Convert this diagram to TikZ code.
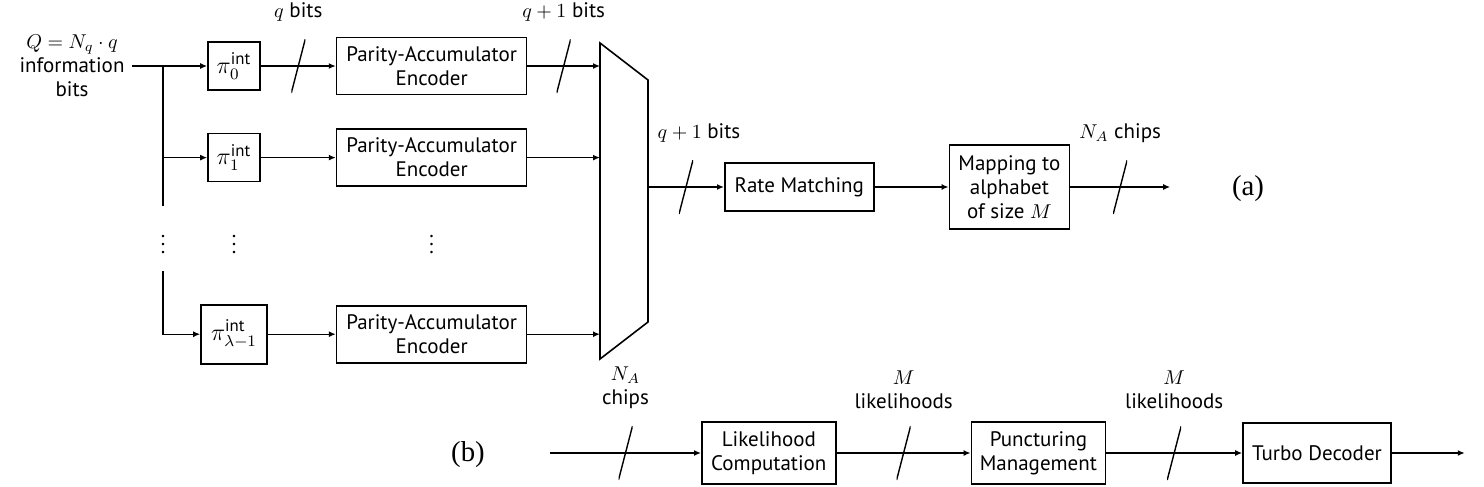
\documentclass[tikz,border=0pt]{standalone}
\usepackage[no-math]{fontspec}
\setmainfont{PT Sans}[Scale=1.05]
\newfontfamily\tagfont{Liberation Serif}
\usepackage{amsmath}
\usetikzlibrary{arrows.meta,positioning,calc}
\tikzset{
  block/.style={
    rectangle, draw, thick, align=center,
    minimum height=28.5pt, inner sep=3pt
  },
  perm/.style={
    rectangle, draw, thick, minimum width=26pt,
    minimum height=24pt, inner sep=1.5pt, font=\large
  },
  flow/.style={-{Latex[length=3.5pt,width=3pt]}, line width=0.7pt},
  wire/.style={line width=0.7pt},
  busmark/.style={
    minimum width=7pt, minimum height=27pt, inner sep=0pt,
    path picture={\draw[-, line width=0.7pt] (path picture bounding box.south west)
      -- (path picture bounding box.north east);}
  },
  buslabel/.style={align=center, inner sep=1pt, label distance=7pt},
}
\begin{document}
\begin{tikzpicture}
  \useasboundingbox (0,0) rectangle (742pt,-243.5pt);

  % (a) transmitter
  \node[align=center] (src) at (36pt,-33pt) {$Q=N_q\cdot q$\\information\\bits};
  \node[perm] (pi0) at (117pt,-33pt) {$\pi_0^{\text{int}}$};
  \node[perm, below=21pt of pi0] (pi1) {$\pi_1^{\text{int}}$};
  \node[perm, minimum width=33pt, minimum height=29.5pt, below=60.75pt of pi1] (piL) {$\pi_{\lambda-1}^{\text{int}}$};

  \node[block, minimum width=95pt, right=37.5pt of pi0] (enc0) {Parity-Accumulator\\Encoder};
  \node[block, minimum width=95pt, right=37.5pt of pi1] (enc1) {Parity-Accumulator\\Encoder};
  \node[block, minimum width=95pt, right=34pt of piL] (encL) {Parity-Accumulator\\Encoder};

  \node (vdsplit) at (81.5pt,-119.5pt) {$\vdots$};
  \node (vdpi) at (vdsplit -| pi1) {$\vdots$};
  \node (vdenc) at (vdsplit -| enc1) {$\vdots$};

  % multiplexer
  \coordinate (muxtl) at (300pt,-21.5pt);
  \coordinate (muxtr) at (324pt,-40pt);
  \coordinate (muxbr) at (324pt,-161pt);
  \coordinate (muxbl) at (300pt,-179.5pt);
  \draw[thick] (muxtl) -- (muxtr) -- (muxbr) -- (muxbl) -- cycle;
  \coordinate (mux0) at (muxtl |- enc0);
  \coordinate (mux1) at (muxtl |- enc1);
  \coordinate (muxL) at (muxtl |- encL);
  \coordinate (muxout) at (324pt,-93.5pt);

  \node[block, minimum width=74.5pt, minimum height=24pt, right=38pt of muxout] (rate) {Rate Matching};
  \node[block, minimum width=60pt, minimum height=42pt, right=37pt of rate] (map) {Mapping to\\alphabet\\of size $M$};
  \coordinate[right=50pt of map] (txout);
  \node[font=\tagfont\Large] (taga) at (624pt,-94.5pt) {(a)};

  \coordinate (split) at (81.5pt,-33pt);
  \coordinate (splitend) at (81.5pt,-103pt);
  \coordinate (splitlow) at (81.5pt,-135.5pt);

  \draw[flow] (src) -- (pi0);
  \draw[flow] (split) |- (pi1);
  \draw[wire] (split) -- (splitend);
  \draw[flow] (splitlow) |- (piL);
  \draw[flow] (pi0) -- node[busmark, label={[buslabel]above:{$q$ bits}}] {} (enc0);
  \draw[flow] (pi1) -- (enc1);
  \draw[flow] (piL) -- (encL);
  \draw[flow] (enc0) -- node[busmark, label={[buslabel]above:{$q+1$ bits}}] {} (mux0);
  \draw[flow] (enc1) -- (mux1);
  \draw[flow] (encL) -- (muxL);
  \draw[flow] (muxout) -- node[busmark, label={[buslabel, xshift=6.5pt]above:{$q+1$ bits}}] {} (rate);
  \draw[flow] (rate) -- (map);
  \draw[flow] (map) -- node[busmark, label={[buslabel]above:{$N_A$ chips}}] {} (txout);

  % (b) receiver
  \node[font=\tagfont\Large] (tagb) at (234pt,-227.5pt) {(b)};
  \coordinate (rxin) at (275pt,-226.5pt);
  \node[block, minimum width=67pt, minimum height=31pt, right=75.5pt of rxin] (lik) {Likelihood\\Computation};
  \node[block, minimum width=67pt, minimum height=31pt, right=67pt of lik] (punc) {Puncturing\\Management};
  \node[block, minimum width=74pt, minimum height=30pt, right=68pt of punc] (turbo) {Turbo Decoder};
  \coordinate[right=36.5pt of turbo] (rxout);

  \draw[flow] (rxin) -- node[busmark, label={[buslabel]above:{$N_A$\\chips}}] {} (lik);
  \draw[flow] (lik) -- node[busmark, label={[buslabel]above:{$M$\\likelihoods}}] {} (punc);
  \draw[flow] (punc) -- node[busmark, label={[buslabel]above:{$M$\\likelihoods}}] {} (turbo);
  \draw[flow] (turbo) -- (rxout);
\end{tikzpicture}
\end{document}
